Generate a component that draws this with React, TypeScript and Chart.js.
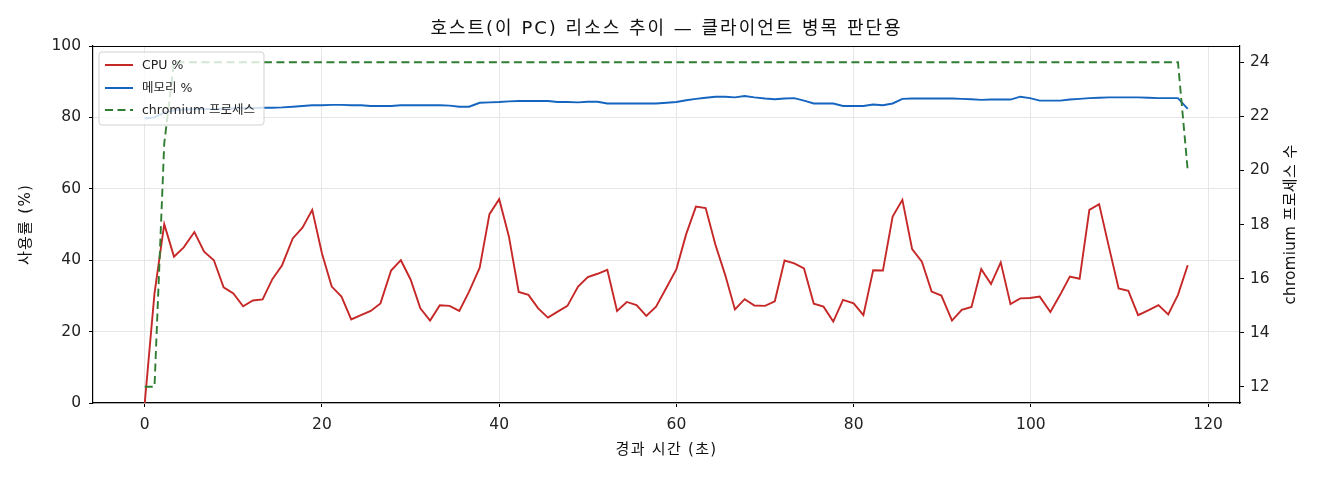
import React, { useEffect, useRef } from "react";
import { Chart, registerables } from "chart.js";

Chart.register(...registerables);

// elapsed seconds for each sample
const times: number[] = [
  0.0, 1.1, 2.2, 3.3, 4.4, 5.6, 6.7, 7.8, 8.9, 10.0,
  11.1, 12.2, 13.3, 14.4, 15.5, 16.7, 17.8, 18.9, 20.0, 21.1,
  22.2, 23.3, 24.4, 25.5, 26.6, 27.8, 28.9, 30.0, 31.1, 32.2,
  33.3, 34.4, 35.5, 36.6, 37.8, 38.9, 40.0, 41.1, 42.2, 43.3,
  44.4, 45.5, 46.6, 47.7, 48.9, 50.0, 51.1, 52.2, 53.3, 54.4,
  55.5, 56.6, 57.7, 58.9, 60.0, 61.1, 62.2, 63.3, 64.4, 65.5,
  66.6, 67.7, 68.8, 70.0, 71.1, 72.2, 73.3, 74.4, 75.5, 76.6,
  77.7, 78.8, 80.0, 81.1, 82.2, 83.3, 84.4, 85.5, 86.6, 87.7,
  88.8, 89.9, 91.1, 92.2, 93.3, 94.4, 95.5, 96.6, 97.7, 98.8,
  99.9, 101.0, 102.2, 103.3, 104.4, 105.5, 106.6, 107.7, 108.8, 109.9,
  111.0, 112.1, 113.3, 114.4, 115.5, 116.6, 117.7,
];

const cpuPct: number[] = [
  0, 30.7, 50.1, 41.0, 43.6, 47.9, 42.4, 40.0, 32.4, 30.7,
  27.1, 28.7, 29.0, 34.7, 38.6, 46.1, 49.1, 54.1, 41.9, 32.6,
  29.8, 23.4, 24.6, 25.8, 27.9, 37.1, 40.0, 34.6, 26.5, 23.1,
  27.4, 27.2, 25.8, 31.2, 37.9, 52.9, 57.1, 46.6, 31.1, 30.3,
  26.5, 23.9, 25.6, 27.2, 32.6, 35.3, 36.2, 37.3, 25.8, 28.3,
  27.4, 24.4, 27.0, 32.4, 37.5, 47.3, 55.0, 54.6, 44.3, 35.9,
  26.2, 29.1, 27.3, 27.2, 28.5, 39.9, 39.1, 37.7, 27.8, 27.0,
  22.8, 28.9, 27.9, 24.6, 37.2, 37.1, 52.2, 56.9, 43.1, 39.6,
  31.2, 30.1, 23.1, 26.1, 26.9, 37.5, 33.3, 39.4, 27.7, 29.3,
  29.4, 29.8, 25.5, 30.3, 35.4, 34.8, 54.1, 55.7, 43.8, 32.1,
  31.4, 24.6, 26.0, 27.4, 24.8, 30.3, 38.6,
];

const memPct: number[] = [
  79.7, 80.0, 81.3, 82.0, 82.2, 82.3, 82.4, 82.3, 82.5, 82.5,
  82.6, 82.6, 82.7, 82.7, 82.8, 83.0, 83.2, 83.4, 83.4, 83.5,
  83.5, 83.4, 83.4, 83.2, 83.2, 83.2, 83.4, 83.4, 83.4, 83.4,
  83.4, 83.3, 83.0, 83.0, 84.1, 84.2, 84.3, 84.5, 84.6, 84.6,
  84.6, 84.6, 84.3, 84.3, 84.2, 84.4, 84.4, 83.9, 83.9, 83.9,
  83.9, 83.9, 83.9, 84.1, 84.3, 84.8, 85.2, 85.5, 85.8, 85.8,
  85.6, 86.0, 85.6, 85.3, 85.1, 85.3, 85.4, 84.7, 83.9, 83.9,
  83.9, 83.2, 83.2, 83.2, 83.6, 83.4, 83.9, 85.2, 85.3, 85.3,
  85.3, 85.3, 85.3, 85.2, 85.1, 84.9, 85.0, 85.0, 85.0, 85.8,
  85.4, 84.7, 84.7, 84.7, 85.0, 85.2, 85.4, 85.5, 85.6, 85.6,
  85.6, 85.6, 85.5, 85.4, 85.4, 85.4, 82.4,
];

const chromiumCount: number[] = [
  12, 12, 21, 24, 24, 24, 24, 24, 24, 24,
  24, 24, 24, 24, 24, 24, 24, 24, 24, 24,
  24, 24, 24, 24, 24, 24, 24, 24, 24, 24,
  24, 24, 24, 24, 24, 24, 24, 24, 24, 24,
  24, 24, 24, 24, 24, 24, 24, 24, 24, 24,
  24, 24, 24, 24, 24, 24, 24, 24, 24, 24,
  24, 24, 24, 24, 24, 24, 24, 24, 24, 24,
  24, 24, 24, 24, 24, 24, 24, 24, 24, 24,
  24, 24, 24, 24, 24, 24, 24, 24, 24, 24,
  24, 24, 24, 24, 24, 24, 24, 24, 24, 24,
  24, 24, 24, 24, 24, 24, 20,
];

const xTicks: number[] = [0, 20, 40, 60, 80, 100, 120];
const yTicks: number[] = [0, 20, 40, 60, 80, 100];
const y1Ticks: number[] = [12, 14, 16, 18, 20, 22, 24];

const seriesLabels: string[] = ["CPU %", "메모리 %", "chromium 프로세스"];
const titleText = "호스트(이 PC) 리소스 추이 — 클라이언트 병목 판단용";
const xTitle = "경과 시간 (초)";
const yTitle = "사용률 (%)";
const y1Title = "chromium 프로세스 수";

const FONT = "'DejaVu Sans', 'Noto Sans CJK KR', sans-serif";
const RED = "#c62828";
const BLUE = "#1565c0";
const GREEN = "#2e7d32";
const DASH = [8, 4.5];

const decorPlugin = {
  id: "decor",
  afterDatasetsDraw(chart: any) {
    const { ctx, chartArea } = chart;
    const { left, right, top, bottom } = chartArea;
    ctx.save();
    // top frame
    ctx.strokeStyle = "#000";
    ctx.lineWidth = 1.2;
    ctx.beginPath();
    ctx.moveTo(left, top + 0.5);
    ctx.lineTo(right, top + 0.5);
    ctx.stroke();

    // legend box
    const bx = left + 6, by = top + 6, bw = 165, bh = 73;
    const r = 3;
    ctx.beginPath();
    ctx.moveTo(bx + r, by);
    ctx.lineTo(bx + bw - r, by);
    ctx.quadraticCurveTo(bx + bw, by, bx + bw, by + r);
    ctx.lineTo(bx + bw, by + bh - r);
    ctx.quadraticCurveTo(bx + bw, by + bh, bx + bw - r, by + bh);
    ctx.lineTo(bx + r, by + bh);
    ctx.quadraticCurveTo(bx, by + bh, bx, by + bh - r);
    ctx.lineTo(bx, by + r);
    ctx.quadraticCurveTo(bx, by, bx + r, by);
    ctx.closePath();
    ctx.fillStyle = "rgba(255,255,255,0.8)";
    ctx.fill();
    ctx.strokeStyle = "rgba(204,204,204,0.9)";
    ctx.lineWidth = 1;
    ctx.stroke();

    const colors = [RED, BLUE, GREEN];
    const rowY = [65, 88, 110];
    ctx.font = `12.5px ${FONT}`;
    ctx.textBaseline = "middle";
    ctx.textAlign = "left";
    for (let i = 0; i < 3; i++) {
      ctx.strokeStyle = colors[i];
      ctx.lineWidth = 2;
      ctx.setLineDash(i === 2 ? DASH : []);
      ctx.beginPath();
      ctx.moveTo(105, rowY[i]);
      ctx.lineTo(133, rowY[i]);
      ctx.stroke();
      ctx.setLineDash([]);
      ctx.fillStyle = "#222";
      ctx.fillText(seriesLabels[i], 142, rowY[i] + 0.5);
    }

    // titles
    ctx.fillStyle = "#111";
    ctx.textAlign = "center";
    ctx.font = `18px ${FONT}`;
    (ctx as any).letterSpacing = "2px";
    ctx.fillText(titleText, (left + right) / 2, 29);
    ctx.font = `15px ${FONT}`;
    (ctx as any).letterSpacing = "1.3px";
    ctx.fillText(xTitle, (left + right) / 2, 450);
    const cy = (top + bottom) / 2;
    ctx.save();
    ctx.translate(26, cy);
    ctx.rotate(-Math.PI / 2);
    ctx.fillText(yTitle, 0, 0);
    ctx.restore();
    ctx.save();
    ctx.translate(1291, cy);
    ctx.rotate(-Math.PI / 2);
    (ctx as any).letterSpacing = "0.4px";
    ctx.fillText(y1Title, 0, 0);
    ctx.restore();
    (ctx as any).letterSpacing = "0px";
    ctx.restore();
  },
};

export default function App() {
  const canvasRef = useRef<HTMLCanvasElement | null>(null);

  useEffect(() => {
    if (!canvasRef.current) return;
    const toPts = (vals: number[]) => vals.map((v, i) => ({ x: times[i], y: v }));
    const tickFont = { family: FONT, size: 15.5 };
    const chart = new Chart(canvasRef.current, {
      type: "line",
      data: {
        datasets: [
          {
            label: seriesLabels[0],
            data: toPts(cpuPct),
            borderColor: RED,
            borderWidth: 1.9,
            pointRadius: 0,
            tension: 0,
            yAxisID: "y",
            order: 2,
          },
          {
            label: seriesLabels[1],
            data: toPts(memPct),
            borderColor: BLUE,
            borderWidth: 1.9,
            pointRadius: 0,
            tension: 0,
            yAxisID: "y",
            order: 1,
          },
          {
            label: seriesLabels[2],
            data: toPts(chromiumCount),
            borderColor: GREEN,
            borderWidth: 1.9,
            borderDash: DASH,
            pointRadius: 0,
            tension: 0,
            yAxisID: "y1",
            order: 0,
          },
        ],
      },
      options: {
        animation: false,
        responsive: true,
        maintainAspectRatio: false,
        layout: { padding: { top: 46, left: 0, right: 0, bottom: 0 } },
        plugins: {
          legend: { display: false },
          title: { display: false },
          tooltip: { enabled: false },
        },
        scales: {
          x: {
            type: "linear",
            min: -5.84,
            max: 123.6,
            afterBuildTicks: (s: any) => {
              s.ticks = xTicks.map((v) => ({ value: v }));
            },
            afterFit: (s: any) => {
              s.height = 77;
            },
            ticks: { font: tickFont, color: "#222", padding: 9, maxRotation: 0 },
            grid: { color: "#e6e6e6", tickColor: "#000", tickLength: 4, lineWidth: 1 },
            border: { color: "#000", width: 1.2 },
          },
          y: {
            type: "linear",
            position: "left",
            min: 0,
            max: 100,
            afterBuildTicks: (s: any) => {
              s.ticks = yTicks.map((v) => ({ value: v }));
            },
            afterFit: (s: any) => {
              s.width = 93;
            },
            ticks: { font: tickFont, color: "#222", padding: 8 },
            grid: { color: "#e6e6e6", tickColor: "#000", tickLength: 4, lineWidth: 1 },
            border: { color: "#000", width: 1.2 },
          },
          y1: {
            type: "linear",
            position: "right",
            min: 11.4,
            max: 24.6,
            afterBuildTicks: (s: any) => {
              s.ticks = y1Ticks.map((v) => ({ value: v }));
            },
            afterFit: (s: any) => {
              s.width = 80;
            },
            ticks: { font: tickFont, color: "#222", padding: 6 },
            grid: { drawOnChartArea: false, tickColor: "#000", tickLength: 4 },
            border: { color: "#000", width: 1.2 },
          },
        },
      },
      plugins: [decorPlugin],
    } as any);
    return () => chart.destroy();
  }, []);

  return (
    <div style={{ position: "absolute", left: 0, top: 0, width: 1320, height: 480, background: "#fff" }}>
      <canvas ref={canvasRef} />
    </div>
  );
}
